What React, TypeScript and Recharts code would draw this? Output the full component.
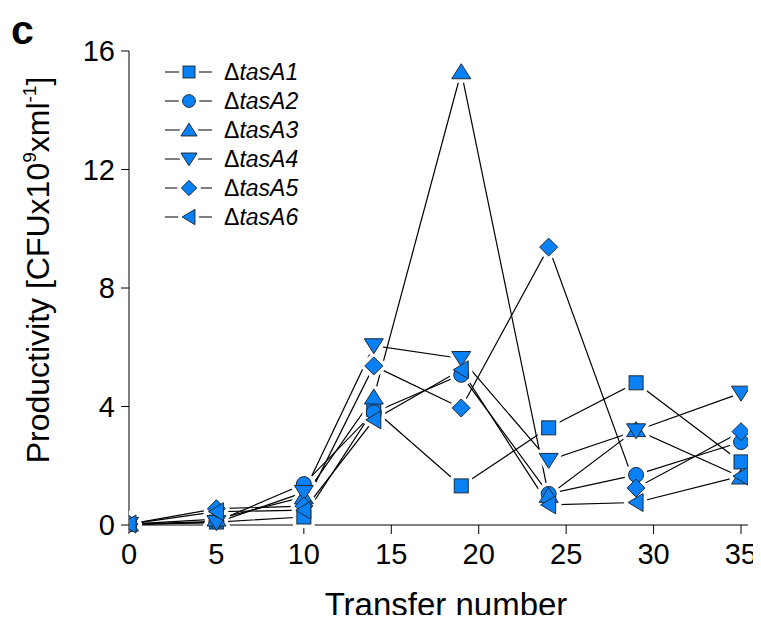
import React from 'react'
import { LineChart, Line, XAxis, YAxis } from 'recharts'

// ---------------------------------------------------------------------------
// Data — productivity per transfer for each ΔtasA lineage
// ---------------------------------------------------------------------------

const TRANSFERS = [0, 5, 10, 14, 19, 24, 29, 35]
const TASA1 = [0.02, 0.1, 0.27, 3.9, 1.32, 3.28, 4.8, 2.13]
const TASA2 = [0.02, 0.12, 1.38, 3.8, 5.07, 1.05, 1.69, 2.8]
const TASA3 = [0.03, 0.2, 0.95, 4.32, 15.3, 1.0, 3.22, 1.62]
const TASA4 = [0.02, 0.08, 1.1, 6.05, 5.62, 2.18, 3.18, 4.45]
const TASA5 = [0.03, 0.55, 0.64, 5.37, 3.95, 9.38, 1.25, 3.15]
const TASA6 = [0.03, 0.45, 0.5, 3.55, 5.24, 0.68, 0.76, 1.65]

const X_TICKS = [0, 5, 10, 15, 20, 25, 30, 35]
const Y_TICKS = [0, 4, 8, 12, 16]

type Shape = 'square' | 'circle' | 'up' | 'down' | 'diamond' | 'left'

const SERIES: { key: string; name: string; shape: Shape; values: number[] }[] = [
  { key: 'a1', name: 'tasA1', shape: 'square', values: TASA1 },
  { key: 'a2', name: 'tasA2', shape: 'circle', values: TASA2 },
  { key: 'a3', name: 'tasA3', shape: 'up', values: TASA3 },
  { key: 'a4', name: 'tasA4', shape: 'down', values: TASA4 },
  { key: 'a5', name: 'tasA5', shape: 'diamond', values: TASA5 },
  { key: 'a6', name: 'tasA6', shape: 'left', values: TASA6 },
]

const data = TRANSFERS.map((t, i) => {
  const row: Record<string, number> = { t }
  SERIES.forEach((s) => {
    row[s.key] = s.values[i]
  })
  return row
})

// ---------------------------------------------------------------------------
// Styling
// ---------------------------------------------------------------------------

const FILL = '#0a80f5'
const EDGE = '#1c2b3a'
const FONT = '"Liberation Sans", Arial, sans-serif'

// halo=true draws a white, fattened copy so lines stop short of the symbol
function Marker({
  cx,
  cy,
  shape,
  k = 1,
  halo = false,
}: {
  cx: number
  cy: number
  shape: Shape
  k?: number
  halo?: boolean
}) {
  if (cx == null || cy == null) return null
  const common = halo
    ? { fill: '#fff', stroke: '#fff', strokeWidth: 8, strokeLinejoin: 'round' as const }
    : { fill: FILL, stroke: EDGE, strokeWidth: 1 }
  switch (shape) {
    case 'square':
      return <rect x={cx - 7 * k} y={cy - 7 * k} width={14 * k} height={14 * k} {...common} />
    case 'circle':
      return <circle cx={cx} cy={cy} r={7.5 * k} {...common} />
    case 'up':
      return (
        <polygon
          points={`${cx},${cy - 8 * k} ${cx + 9.5 * k},${cy + 7 * k} ${cx - 9.5 * k},${cy + 7 * k}`}
          {...common}
        />
      )
    case 'down':
      return (
        <polygon
          points={`${cx},${cy + 8 * k} ${cx + 9.5 * k},${cy - 7 * k} ${cx - 9.5 * k},${cy - 7 * k}`}
          {...common}
        />
      )
    case 'diamond':
      return (
        <polygon
          points={`${cx},${cy - 9 * k} ${cx + 9 * k},${cy} ${cx},${cy + 9 * k} ${cx - 9 * k},${cy}`}
          {...common}
        />
      )
    case 'left':
      return (
        <polygon
          points={`${cx - 8 * k},${cy} ${cx + 7 * k},${cy - 9 * k} ${cx + 7 * k},${cy + 9 * k}`}
          {...common}
        />
      )
  }
}

// x tick label; the last one is end-anchored so it stays inside the frame
function XTick({ x, y, payload }: any) {
  const last = payload.value === X_TICKS[X_TICKS.length - 1]
  return (
    <text
      x={last ? x + 16 : x}
      y={y}
      dy="0.71em"
      textAnchor={last ? 'end' : 'middle'}
      fontFamily={FONT}
      fontSize={29}
      fill="#000"
    >
      {payload.value}
    </text>
  )
}

// ---------------------------------------------------------------------------
// Overlay: panel letter, axis titles and legend
// ---------------------------------------------------------------------------

function Overlay() {
  return (
    <svg
      width={761}
      height={623}
      style={{ position: 'absolute', left: 0, top: 0, pointerEvents: 'none' }}
    >
      <text x={11} y={44} fontFamily={FONT} fontWeight={700} fontSize={41} fill="#000">
        c
      </text>
      <text
        transform="translate(49,270) rotate(-90)"
        textAnchor="middle"
        fontFamily={FONT}
        fontSize={32}
        fill="#000"
      >
        Productivity [CFUx10
        <tspan fontSize={19} dy={-13}>9</tspan>
        <tspan dy={13}>xml</tspan>
        <tspan fontSize={19} dy={-13}>-1</tspan>
        <tspan dy={13}>]</tspan>
      </text>
      <text x={446} y={616} textAnchor="middle" fontFamily={FONT} fontSize={33} fill="#000">
        Transfer number
      </text>
      {SERIES.map((s, i) => {
        const y = 72 + i * 29
        return (
          <g key={s.key}>
            <line x1={165} x2={212} y1={y} y2={y} stroke="#000" strokeWidth={1.2} />
            <Marker cx={189} cy={y} shape={s.shape} k={0.85} halo />
            <Marker cx={189} cy={y} shape={s.shape} k={0.85} />
            <text x={224} y={y + 8} fontFamily={FONT} fontSize={23} fill="#000">
              Δ<tspan fontStyle="italic">{s.name}</tspan>
            </text>
          </g>
        )
      })}
    </svg>
  )
}

export default function App() {
  return (
    <div style={{ position: 'relative', width: 761, height: 623, margin: -8 }}>
      <LineChart
        width={761}
        height={623}
        data={data}
        margin={{ top: 51, right: 13, bottom: 0, left: 0 }}
      >
        <XAxis
          dataKey="t"
          type="number"
          domain={[0, 35.4]}
          ticks={X_TICKS}
          allowDataOverflow
          height={98}
          tickSize={9}
          tickMargin={9}
          stroke="#000"
          tick={<XTick />}
        />
        <YAxis
          type="number"
          domain={[0, 16]}
          ticks={Y_TICKS}
          width={129}
          tickSize={8}
          tickMargin={6}
          stroke="#000"
          tick={{ fill: '#000', fontSize: 29, fontFamily: FONT }}
        />
        {/* connecting lines */}
        {SERIES.map((s) => (
          <Line
            key={`line-${s.key}`}
            dataKey={s.key}
            type="linear"
            stroke="#000"
            strokeWidth={1.2}
            isAnimationActive={false}
            dot={false}
            activeDot={false}
          />
        ))}
        {/* white gaps around every symbol */}
        {SERIES.map((s) => (
          <Line
            key={`halo-${s.key}`}
            dataKey={s.key}
            stroke="none"
            isAnimationActive={false}
            dot={(p: any) => (
              <Marker key={`h-${s.key}-${p.index}`} cx={p.cx} cy={p.cy} shape={s.shape} halo />
            )}
            activeDot={false}
            legendType="none"
          />
        ))}
        {/* symbols */}
        {SERIES.map((s) => (
          <Line
            key={`sym-${s.key}`}
            dataKey={s.key}
            stroke="none"
            isAnimationActive={false}
            dot={(p: any) => (
              <Marker key={`m-${s.key}-${p.index}`} cx={p.cx} cy={p.cy} shape={s.shape} />
            )}
            activeDot={false}
            legendType="none"
          />
        ))}
      </LineChart>
      <Overlay />
    </div>
  )
}
